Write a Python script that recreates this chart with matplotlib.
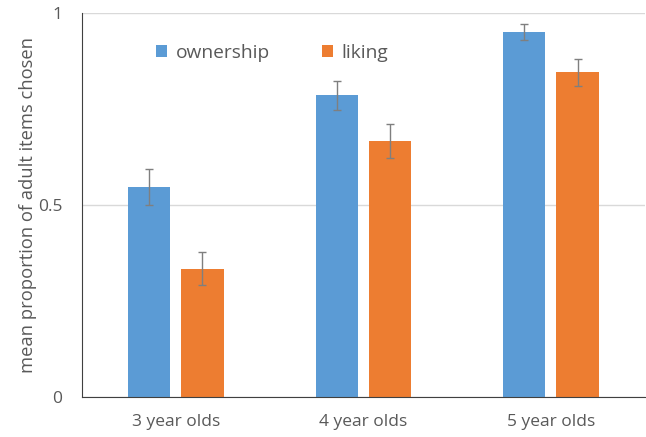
import matplotlib.pyplot as plt
import numpy as np

plt.rcParams['font.family'] = ['Open Sans', 'DejaVu Sans']

groups = ["3 year olds", "4 year olds", "5 year olds"]
ownership = [0.547, 0.786, 0.951]
liking = [0.334, 0.667, 0.846]
ownership_err = [0.047, 0.038, 0.020]
liking_err = [0.043, 0.044, 0.035]

blue = "#5B9BD5"
orange = "#ED7D31"
txt = "#595959"

fig = plt.figure(figsize=(6.46, 4.37), dpi=100)
ax = fig.add_axes([0.127, 0.0915, 0.871, 0.8785])

x = np.arange(len(groups))
w = 0.225
off = 0.142
ax.bar(x - off, ownership, w, color=blue, label="ownership",
       yerr=ownership_err, ecolor="#7f7f7f", capsize=3, error_kw=dict(elinewidth=1, capthick=1))
ax.bar(x + off, liking, w, color=orange, label="liking",
       yerr=liking_err, ecolor="#7f7f7f", capsize=3, error_kw=dict(elinewidth=1, capthick=1))

ax.set_xlim(-0.5, 2.5)
ax.set_ylim(0, 1)
ax.set_yticks([0, 0.5, 1])
ax.set_yticklabels(["0", "0.5", "1"])
ax.set_xticks(x)
ax.set_xticklabels(groups)
ax.tick_params(axis="both", length=0, labelsize=12.5, colors=txt)
ax.tick_params(axis="x", pad=12)
ax.tick_params(axis="y", pad=14)
ax.yaxis.grid(True, color="#d9d9d9", linewidth=1)
ax.set_axisbelow(True)
for s in ["top", "right"]:
    ax.spines[s].set_visible(False)
ax.spines["left"].set_color("#404040")
ax.spines["bottom"].set_color("#404040")
ax.set_ylabel("mean proportion of adult items chosen", fontsize=13.2, color=txt, labelpad=1)

ax.legend(loc="upper left", bbox_to_anchor=(0.1, 0.965), ncol=2, frameon=False,
          fontsize=13.8, labelcolor=txt, handlelength=0.6, handleheight=0.6,
          columnspacing=2.7, handletextpad=0.45)

fig.savefig("out.png", dpi=100)
